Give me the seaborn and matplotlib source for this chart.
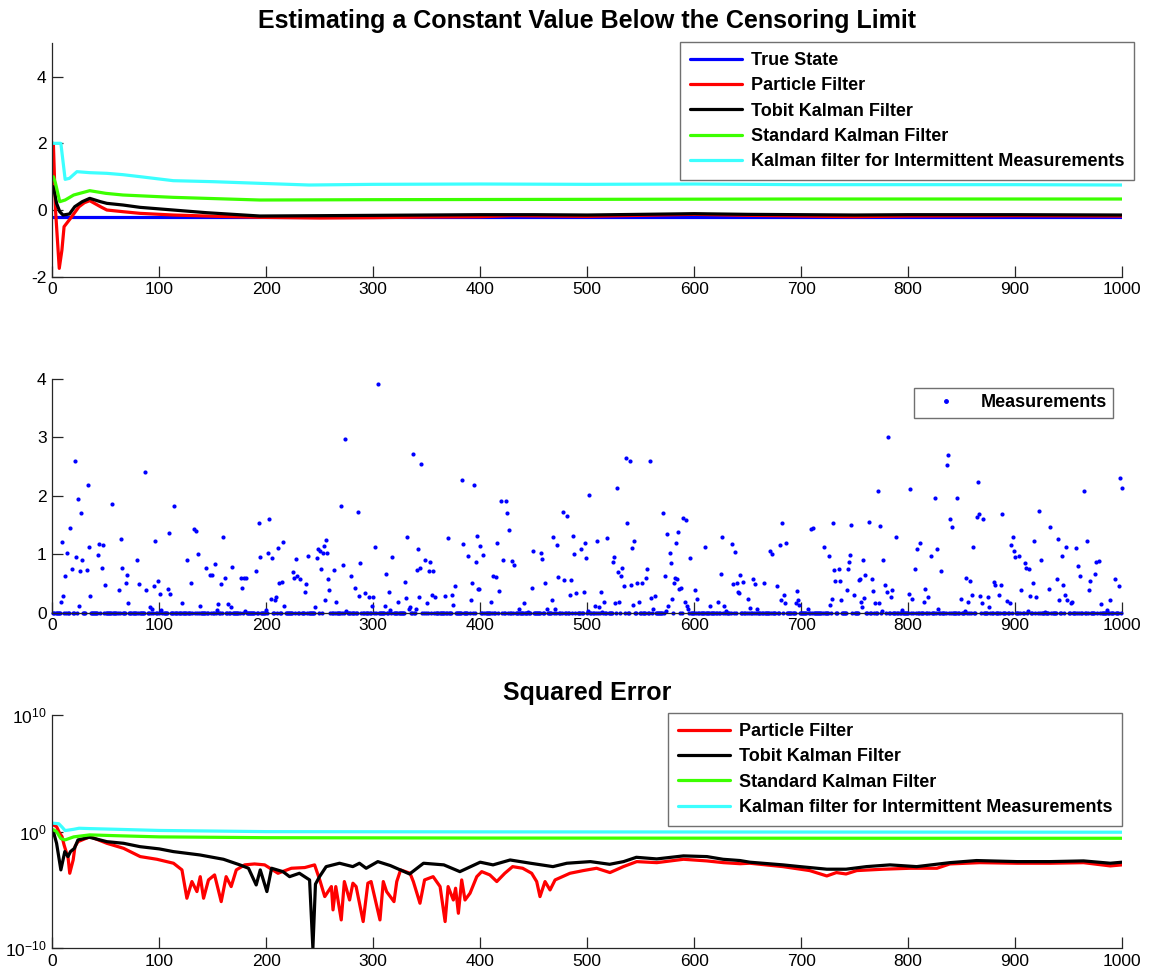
import numpy as np
import pandas as pd
import matplotlib
matplotlib.use("Agg")
import matplotlib.pyplot as plt
from matplotlib.ticker import NullLocator, FixedLocator
import seaborn as sns

# ---------------- data ----------------
steps_max = 1000

# top panel: state estimates
true_t = [1, 1000]
true_v = [-0.2, -0.2]

pf_t = [1, 3, 6.5, 9, 11, 17, 25, 30, 35, 45, 51, 66, 82, 113, 144, 194, 250, 300, 350,
        400, 430, 500, 550, 600, 650, 700, 750, 800, 900, 1000]
pf_v = [2.0, 0.0, -1.75, -1.2, -0.5, -0.25, 0.1, 0.22, 0.28, 0.1, 0.0, -0.05, -0.1, -0.15,
        -0.18, -0.22, -0.24, -0.23, -0.21, -0.2, -0.17, -0.19, -0.16, -0.13, -0.16, -0.18,
        -0.2, -0.18, -0.17, -0.18]

tkf_t = [1, 4, 7, 10, 16, 21, 28, 35, 45, 51, 66, 82, 113, 144, 194, 250, 300, 350, 400,
         450, 500, 550, 600, 650, 700, 750, 800, 900, 1000]
tkf_v = [0.7, 0.2, -0.05, -0.15, -0.12, 0.1, 0.25, 0.35, 0.25, 0.2, 0.15, 0.08, 0.0, -0.08,
         -0.18, -0.17, -0.16, -0.15, -0.14, -0.14, -0.15, -0.13, -0.11, -0.13, -0.14, -0.15,
         -0.14, -0.14, -0.15]

skf_t = [1, 3, 7, 12, 20, 35, 50, 66, 113, 194, 300, 500, 700, 1000]
skf_v = [1.0, 0.8, 0.25, 0.3, 0.45, 0.58, 0.5, 0.45, 0.38, 0.30, 0.31, 0.32, 0.33, 0.33]

kfi_t = [1, 8, 12, 16, 23, 35, 51, 66, 82, 113, 150, 194, 240, 300, 400, 500, 600, 700,
         800, 900, 1000]
kfi_v = [2.0, 2.0, 0.92, 0.95, 1.15, 1.12, 1.10, 1.06, 1.0, 0.88, 0.85, 0.80, 0.75, 0.77,
         0.78, 0.77, 0.78, 0.76, 0.76, 0.76, 0.75]

# middle panel: non-zero (uncensored) measurements; all other steps measured 0
meas_t = [21, 87, 33, 24, 56, 114, 27, 17, 9, 132, 134, 109, 96, 64, 44, 47, 34, 193, 203, 14,
          136, 202, 22, 28, 43, 79, 126, 194, 18, 26, 32, 46, 65, 70, 144, 152, 147, 149, 160,
          168, 161, 158, 176, 179, 181, 177, 190, 12, 49, 69, 81, 62, 88, 99, 95, 108, 110,
          101, 130, 10, 35, 8, 71, 121, 155, 164, 25, 91, 138, 167, 93, 102, 154, 180, 204,
          200,
          304, 274, 337, 345, 383, 394, 270, 286, 397, 332, 370, 216, 256, 302, 211, 248, 250,
          254, 253, 257, 384, 400, 403, 205, 228, 239, 247, 318, 342, 348, 389, 396, 288, 272,
          353, 344, 341, 352, 356, 251, 263, 225, 229, 226, 232, 279, 312, 258, 212, 215, 237,
          330, 392, 376, 283, 259, 398, 399, 236, 315, 292, 287, 296, 300, 355, 358, 367, 374,
          343, 331, 208, 209, 255, 265, 350, 323, 391, 375, 217, 246, 299, 311, 334, 333, 340,
          316, 275,
          536, 540, 559, 528, 502, 419, 424, 425, 477, 481, 571, 427, 537, 590, 592, 575, 585,
          416, 468, 487, 498, 509, 519, 472, 544, 542, 583, 449, 457, 458, 488, 494, 499, 421,
          430, 432, 524, 525, 577, 578, 596, 529, 533, 532, 556, 555, 412, 415, 573, 582, 584,
          473, 478, 485, 534, 541, 547, 551, 581, 586, 588, 448, 461, 484, 490, 497, 418, 513,
          560, 563, 579, 603, 601, 410, 441, 467, 516, 526, 530, 548, 543, 591, 507, 511, 576,
          593, 594, 462, 470, 436, 562, 574, 501, 445, 514,
          781, 772, 802, 682, 730, 747, 763, 774, 709, 711, 626, 789, 610, 635, 638, 671, 673,
          680, 686, 721, 726, 731, 735, 744, 745, 746, 758, 777, 806, 625, 643, 640, 636, 646,
          655, 657, 665, 677, 732, 736, 754, 755, 760, 766, 778, 641, 642, 684, 696, 743, 749,
          767, 780, 785, 801, 650, 681, 685, 695, 697, 698, 729, 737, 756, 759, 769, 773, 784,
          804, 622, 615, 628, 727, 757, 652, 659, 706, 630, 794, 776,
          837, 836, 998, 1000, 964, 825, 846, 865, 922, 888, 839, 841, 864, 866, 870, 933, 811,
          808, 827, 821, 861, 898, 896, 899, 900, 904, 918, 940, 948, 944, 957, 967, 924, 831,
          909, 910, 913, 959, 976, 978, 961, 975, 970, 854, 858, 880, 881, 887, 939, 945, 917,
          993, 997, 816, 906, 932, 969, 860, 867, 875, 885, 914, 920, 947, 819, 849, 892, 895,
          815, 856, 869, 941, 949, 952, 953, 980, 989, 876, 828, 853, 912, 928, 986]
meas_y = [2.59, 2.41, 2.18, 1.95, 1.86, 1.82, 1.70, 1.45, 1.21, 1.43, 1.39, 1.36, 1.23, 1.26,
          1.18, 1.15, 1.13, 1.53, 1.60, 1.02, 1.01, 1.02, 0.96, 0.90, 0.98, 0.91, 0.91, 0.96,
          0.74, 0.71, 0.73, 0.77, 0.77, 0.65, 0.77, 0.84, 0.64, 0.64, 1.30, 0.79, 0.60, 0.49,
          0.60, 0.60, 0.60, 0.42, 0.71, 0.62, 0.47, 0.50, 0.49, 0.39, 0.39, 0.55, 0.46, 0.40,
          0.32, 0.32, 0.50, 0.29, 0.29, 0.18, 0.16, 0.17, 0.15, 0.15, 0.11, 0.10, 0.12, 0.10,
          0.06, 0.05, 0.05, 0.03, 0.23, 0.05,
          3.91, 2.97, 2.72, 2.54, 2.27, 2.18, 1.83, 1.72, 1.31, 1.29, 1.28, 1.21, 1.24, 1.13,
          1.11, 1.09, 1.06, 1.14, 1.03, 1.03, 1.17, 1.14, 0.99, 0.93, 0.92, 0.97, 0.94, 0.96,
          1.09, 0.91, 0.97, 0.86, 0.85, 0.82, 0.87, 0.77, 0.73, 0.71, 0.71, 0.74, 0.73, 0.70,
          0.63, 0.59, 0.57, 0.63, 0.67, 0.57, 0.51, 0.53, 0.49, 0.53, 0.51, 0.46, 0.42, 0.39,
          0.41, 0.41, 0.36, 0.35, 0.34, 0.29, 0.26, 0.26, 0.30, 0.27, 0.29, 0.30, 0.26, 0.25,
          0.21, 0.27, 0.21, 0.19, 0.17, 0.18, 0.22, 0.14, 0.11, 0.10, 0.12, 0.11, 0.09, 0.06,
          0.06, 0.05, 0.03,
          2.64, 2.60, 2.60, 2.13, 2.02, 1.91, 1.91, 1.70, 1.73, 1.66, 1.70, 1.42, 1.53, 1.62,
          1.59, 1.34, 1.38, 1.20, 1.29, 1.31, 1.20, 1.23, 1.27, 1.15, 1.23, 1.11, 1.19, 1.05,
          1.03, 0.92, 1.01, 1.09, 0.93, 0.90, 0.89, 0.82, 0.86, 0.95, 1.02, 0.85, 0.93, 0.69,
          0.77, 0.63, 0.74, 0.59, 0.63, 0.61, 0.62, 0.60, 0.58, 0.61, 0.56, 0.56, 0.46, 0.47,
          0.51, 0.50, 0.50, 0.41, 0.43, 0.43, 0.50, 0.31, 0.33, 0.35, 0.37, 0.35, 0.25, 0.29,
          0.23, 0.23, 0.38, 0.18, 0.17, 0.21, 0.18, 0.17, 0.19, 0.19, 0.13, 0.18, 0.12, 0.09,
          0.11, 0.11, 0.07, 0.07, 0.07, 0.06, 0.06, 0.03, 0.03, 0.02, 0.02,
          3.00, 2.08, 2.11, 1.54, 1.53, 1.50, 1.55, 1.49, 1.43, 1.45, 1.29, 1.30, 1.12, 1.17,
          1.04, 1.06, 1.01, 1.15, 1.19, 1.12, 0.97, 0.73, 0.75, 0.75, 0.86, 0.98, 0.90, 0.91,
          0.75, 0.67, 0.64, 0.50, 0.49, 0.53, 0.57, 0.49, 0.50, 0.45, 0.55, 0.55, 0.56, 0.58,
          0.64, 0.58, 0.48, 0.35, 0.33, 0.30, 0.37, 0.39, 0.31, 0.37, 0.36, 0.38, 0.32, 0.24,
          0.22, 0.17, 0.16, 0.21, 0.13, 0.24, 0.22, 0.19, 0.25, 0.17, 0.17, 0.26, 0.24, 0.19,
          0.11, 0.11, 0.13, 0.10, 0.08, 0.07, 0.06, 0.03, 0.05, 0.03,
          2.70, 2.53, 2.31, 2.14, 2.08, 1.96, 1.97, 2.23, 1.74, 1.69, 1.60, 1.47, 1.63, 1.69,
          1.60, 1.47, 1.19, 1.09, 1.09, 0.97, 1.12, 1.29, 1.15, 1.06, 0.96, 0.97, 1.22, 1.26,
          1.13, 0.97, 1.10, 1.22, 0.91, 0.71, 0.85, 0.77, 0.75, 0.80, 0.87, 0.89, 0.63, 0.67,
          0.54, 0.60, 0.54, 0.53, 0.47, 0.48, 0.57, 0.47, 0.51, 0.57, 0.45, 0.41, 0.39, 0.41,
          0.39, 0.31, 0.29, 0.27, 0.30, 0.29, 0.27, 0.30, 0.26, 0.23, 0.20, 0.17, 0.19, 0.18,
          0.17, 0.21, 0.21, 0.16, 0.18, 0.15, 0.21, 0.09, 0.06, 0.03, 0.03, 0.02, 0.04]

# bottom panel: squared error, given as log10 values
pf_err_t = [1, 4, 6.6, 9.1, 11, 14.8, 16.3, 19.5, 21.2, 24, 35.3, 51, 66.6, 82.2, 97.8,
            113.3, 121.2, 125.8, 130.5, 135.2, 138.3, 141.4, 146, 151.7, 157.9, 162.5, 167.2,
            172, 179.8, 189, 198.5, 211, 223.5, 236, 245.2, 250, 254.7, 260.9, 262.4, 265,
            270.1, 273, 277.9, 281, 284, 290.6, 295, 298, 306.3, 309.4, 312.5, 319.4, 322,
            325.6, 334.4, 337.5, 343.7, 348, 356, 362.5, 367.2, 370, 374.9, 377, 379.6, 382.7,
            385.8, 390.5, 396.8, 401.4, 409, 415.5, 423, 430.3, 439.7, 448.1, 452.8, 455.9,
            460.6, 465.3, 470, 483.9, 496.3, 508.8, 521.3, 533.8, 546.4, 565.1, 590, 611.8,
            627.4, 643, 652, 683, 708, 724, 733, 742, 752, 777, 802, 827, 839, 867, 902, 933,
            964, 989, 1000]
pf_err_log = [0.57, 0.43, -0.09, -0.43, -1.14, -2.28, -3.57, -2.43, -1.28, -0.86, -0.43,
              -1.0, -1.43, -2.14, -2.37, -2.71, -3.28, -5.71, -4.28, -5.14, -3.86, -5.71,
              -4.14, -3.71, -6.0, -3.86, -4.71, -3.28, -2.85, -2.77, -2.85, -3.57, -3.14,
              -3.08, -2.85, -4.14, -5.57, -4.71, -6.71, -4.71, -7.57, -4.28, -5.86, -4.42,
              -4.71, -7.71, -4.42, -4.28, -7.57, -4.28, -5.14, -6.0, -4.28, -3.28, -3.57,
              -4.28, -6.14, -4.14, -3.86, -4.71, -7.71, -4.71, -5.86, -4.85, -7.0, -4.14,
              -5.86, -5.28, -3.86, -3.43, -3.71, -4.28, -3.57, -3.0, -3.14, -3.57, -4.28,
              -5.57, -4.28, -5.0, -4.14, -3.57, -3.34, -3.14, -3.51, -3.0, -2.57, -2.66,
              -2.37, -2.51, -2.66, -2.75, -2.71, -3.0, -3.34, -3.8, -3.51, -3.63, -3.34,
              -3.22, -3.14, -3.14, -2.77, -2.66, -2.71, -2.71, -2.66, -2.94, -2.85]

tkf_err_t = [1, 4, 8, 11.7, 14.7, 17, 20.7, 24, 34.6, 51, 66.6, 82, 100, 113, 138, 160,
             175.6, 183.4, 190.6, 194.4, 200.6, 205, 215.6, 221.8, 231, 240.5, 243.6, 246,
             249.8, 256, 268.5, 280.9, 287.1, 293.4, 304.3, 316, 334, 347, 366, 381, 400, 412,
             428, 447, 468, 481, 503, 521, 534, 546, 565, 590, 612, 627, 643, 652, 683, 699,
             724, 742, 761, 783, 808, 839, 864, 902, 933, 964, 989, 1000]
tkf_err_log = [0.0, -1.0, -3.28, -1.71, -2.14, -1.71, -1.43, -0.71, -0.48, -0.86, -1.0,
               -1.29, -1.48, -1.71, -2.0, -2.37, -2.86, -3.14, -4.57, -3.28, -5.14, -3.14,
               -3.43, -3.86, -3.57, -4.14, -10.0, -4.5, -3.86, -3.0, -2.71, -3.0, -2.71,
               -3.14, -2.57, -2.91, -3.63, -2.71, -2.85, -3.43, -2.62, -2.85, -2.43, -2.71,
               -3.0, -2.71, -2.57, -2.80, -2.57, -2.20, -2.34, -2.08, -2.14, -2.37, -2.48,
               -2.62, -2.85, -3.0, -3.22, -3.22, -3.0, -2.85, -3.0, -2.66, -2.48, -2.57,
               -2.57, -2.51, -2.71, -2.62]

skf_err_t = [1, 4, 8, 12, 20, 35, 60, 100, 200, 400, 600, 800, 1000]
skf_err_log = [0.16, 0.0, -0.6, -0.71, -0.45, -0.28, -0.35, -0.45, -0.52, -0.55, -0.56,
               -0.57, -0.57]

kfi_err_t = [1, 6, 9, 12, 20, 25, 35, 60, 100, 200, 400, 600, 800, 1000]
kfi_err_log = [0.72, 0.68, 0.4, 0.09, 0.2, 0.29, 0.26, 0.2, 0.1, 0.0, -0.02, -0.03, -0.04,
               -0.05]

# ---------------- styling ----------------
sns.set_theme(style="ticks")
plt.rcParams["font.family"] = ["Liberation Sans", "DejaVu Sans"]
plt.rcParams["mathtext.fontset"] = "custom"
plt.rcParams["mathtext.rm"] = "Liberation Sans"
plt.rcParams["mathtext.it"] = "Liberation Sans:italic"
plt.rcParams["mathtext.bf"] = "Liberation Sans:bold"
plt.rcParams["axes.unicode_minus"] = False
plt.rcParams["text.color"] = "black"

C_BLUE = "#0000ff"
C_RED = "#ff0000"
C_BLACK = "#000000"
C_GREEN = "#3cff00"
C_CYAN = "#3cffff"
LW = 2.3
TICK_FS = 12.5
LEG_FS = 13
TITLE_FS = 18

fig = plt.figure(figsize=(11.52, 9.75), dpi=100)
left, width = 0.0454, 0.9286
ax1 = fig.add_axes([left, 0.7162, width, 0.2394])
ax2 = fig.add_axes([left, 0.3716, width, 0.2397])
ax3 = fig.add_axes([left, 0.0274, width, 0.2393])


def style_axis(ax):
    for s in ["top", "right"]:
        ax.spines[s].set_visible(False)
    for s in ["left", "bottom"]:
        ax.spines[s].set_color("#262626")
        ax.spines[s].set_linewidth(0.9)
    ax.tick_params(direction="in", length=8, width=0.9, color="#262626",
                   labelsize=TICK_FS, labelcolor="black", pad=4)
    ax.set_xlim(0, steps_max)
    ax.set_xticks(np.arange(0, 1001, 100))
    ax.set_xlabel("")
    ax.set_ylabel("")


def add_legend(ax, handles, labels, anchor_px, **kw):
    leg = ax.legend(handles, labels, loc="upper right",
                    bbox_to_anchor=(anchor_px[0] / 1152, 1 - anchor_px[1] / 975),
                    bbox_transform=fig.transFigure, borderaxespad=0, fancybox=False,
                    framealpha=1, edgecolor="#707070", prop={"weight": "bold", "size": LEG_FS},
                    **kw)
    leg.get_frame().set_linewidth(1.0)
    for txt in leg.get_texts():
        txt.set_color("black")
    return leg


# ---- top panel
series_top = [(true_t, true_v, C_BLUE, "True State"),
              (pf_t, pf_v, C_RED, "Particle Filter"),
              (tkf_t, tkf_v, C_BLACK, "Tobit Kalman Filter"),
              (skf_t, skf_v, C_GREEN, "Standard Kalman Filter"),
              (kfi_t, kfi_v, C_CYAN, "Kalman filter for Intermittent Measurements")]
for t, v, c, lab in series_top:
    sns.lineplot(x=t, y=v, color=c, linewidth=LW, ax=ax1, sort=False, estimator=None)
ax1.set_ylim(-2, 5)
ax1.set_yticks([-2, 0, 2, 4])
style_axis(ax1)
ax1.set_title("Estimating a Constant Value Below the Censoring Limit",
              fontsize=TITLE_FS, fontweight="bold", pad=11, color="black")
h = [plt.Line2D([], [], color=c, lw=LW) for _, _, c, _ in series_top]
add_legend(ax1, h, [s[3] for s in series_top], (1134, 42),
           handlelength=2.9, labelspacing=0.46, borderpad=0.55, handletextpad=0.45)

# ---- middle panel
meas_set = set(meas_t)
zero_t = [t for t in range(1, steps_max + 1) if t not in meas_set]
mdf = pd.DataFrame({"step": list(meas_t) + zero_t,
                    "value": list(meas_y) + [0.0] * len(zero_t)})
sns.scatterplot(data=mdf, x="step", y="value", color=C_BLUE, s=9, linewidth=0,
                ax=ax2, legend=False, clip_on=False)
ax2.set_ylim(0, 4)
ax2.set_yticks([0, 1, 2, 3, 4])
style_axis(ax2)
hm = [plt.Line2D([], [], color=C_BLUE, marker=".", markersize=5, lw=0)]
add_legend(ax2, hm, ["Measurements"], (1113, 388),
           handlelength=2.9, borderpad=0.35, handletextpad=0.45)

# ---- bottom panel
series_err = [(pf_err_t, pf_err_log, C_RED, "Particle Filter"),
              (tkf_err_t, tkf_err_log, C_BLACK, "Tobit Kalman Filter"),
              (skf_err_t, skf_err_log, C_GREEN, "Standard Kalman Filter"),
              (kfi_err_t, kfi_err_log, C_CYAN, "Kalman filter for Intermittent Measurements")]
for t, lv, c, lab in series_err:
    sns.lineplot(x=t, y=np.power(10.0, np.array(lv)), color=c, linewidth=LW, ax=ax3,
                 sort=False, estimator=None)
ax3.set_yscale("log")
ax3.set_ylim(1e-10, 1e10)
ax3.yaxis.set_major_locator(FixedLocator([1e-10, 1e0, 1e10]))
ax3.yaxis.set_minor_locator(NullLocator())
style_axis(ax3)
ax3.set_title("Squared Error", fontsize=TITLE_FS, fontweight="bold", pad=11, color="black")
h3 = [plt.Line2D([], [], color=c, lw=LW) for _, _, c, _ in series_err]
add_legend(ax3, h3, [s[3] for s in series_err], (1122, 713),
           handlelength=2.9, labelspacing=0.46, borderpad=0.55, handletextpad=0.45)

fig.savefig("out.png", dpi=100)
